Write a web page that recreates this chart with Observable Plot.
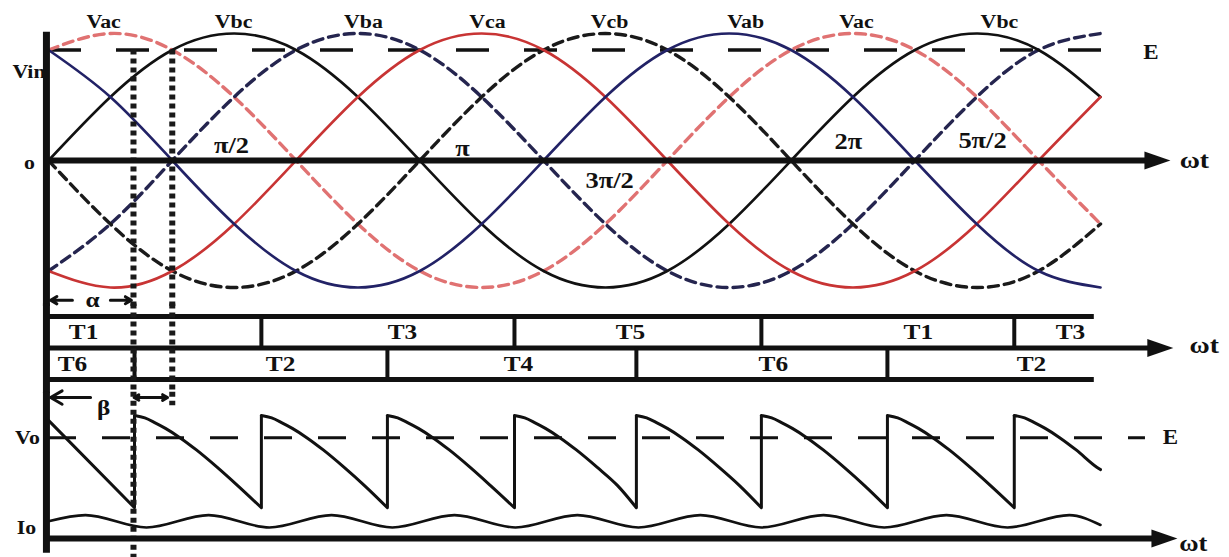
<!DOCTYPE html>
<html>
<head>
<meta charset="utf-8">
<script src="https://cdn.jsdelivr.net/npm/d3@7"></script>
<script src="https://cdn.jsdelivr.net/npm/@observablehq/plot@0.6"></script>
<style>
  html, body { margin: 0; padding: 0; background: #fff; }
  #chart { width: 1229px; height: 557px; overflow: hidden; }
  #chart svg { display: block; }
</style>
</head>
<body>
<div id="chart"></div>
<script>
// ---------- line voltages (per unit), sampled every 30° of ωt ----------
const angles = [0, 30, 60, 90, 120, 150, 180, 210, 240, 270, 300, 330, 360, 390, 420, 450, 480, 510];
const vbc = [0, 0.5, 0.87, 1, 0.87, 0.5, 0, -0.5, -0.87, -1, -0.87, -0.5, 0, 0.5, 0.87, 1, 0.87, 0.5];
const vcb = [0, -0.5, -0.87, -1, -0.87, -0.5, 0, 0.5, 0.87, 1, 0.87, 0.5, 0, -0.5, -0.87, -1, -0.87, -0.5];
const vac = [0.87, 1, 0.87, 0.5, 0, -0.5, -0.87, -1, -0.87, -0.5, 0, 0.5, 0.87, 1, 0.87, 0.5, 0, -0.5];
const vca = [-0.87, -1, -0.87, -0.5, 0, 0.5, 0.87, 1, 0.87, 0.5, 0, -0.5, -0.87, -1, -0.87, -0.5, 0, 0.5];
const vab = [0.87, 0.5, 0, -0.5, -0.87, -1, -0.87, -0.5, 0, 0.5, 0.87, 1, 0.87, 0.5, 0, -0.5, -0.87, -1];
const vba = [-0.87, -0.5, 0, 0.5, 0.87, 1, 0.87, 0.5, 0, -0.5, -0.87, -1, -0.87, -0.5, 0, 0.5, 0.87, 1];

// back-EMF level E (per unit)
const eLevel = [0.87];

// labels of the line-voltage peaks and their ωt position (degrees)
const peakLabels = ["Vac", "Vbc", "Vba", "Vca", "Vcb", "Vab", "Vac", "Vbc"];
const peakLabelAngles = [26.7, 89.7, 152.7, 212.8, 272, 338, 391.7, 461];

// angle tick labels on the ωt axis
const angleLabels = ["π/2", "π", "3π/2", "2π", "5π/2"];
const angleLabelX = [88.7, 200.7, 272, 387.8, 452.8];
const angleLabelY = [0.12, 0.09, -0.16, 0.15, 0.16];

// firing instants (degrees): thyristor switching, alternating lower / upper group
const firing = [41.7, 103.2, 164.3, 225.9, 285.0, 345.6, 406.7, 468.2];
const alphaGuide = [41.2];   // firing-angle guide
const crossGuide = [60];     // natural commutation point where Vac = Vbc = E

// conducting thyristors
const upperNames = ["T1", "T3", "T5", "T1", "T3"];
const upperLabelAt = [17, 171.6, 282.1, 421.7, 495.4];
const lowerNames = ["T6", "T2", "T4", "T6", "T2"];
const lowerLabelAt = [11.6, 112.5, 227.8, 351.4, 476.5];

// output voltage: shape of one 60° segment after firing (offset °, value)
const voProfileOffset = [0, 5, 10, 15, 22, 30, 40, 50];
const voProfileValue = [1.0, 0.98, 0.94, 0.895, 0.82, 0.72, 0.58, 0.43];
const voValley = 0.25;
const voStart = [0, 0.96];
const voEnd = [510, 0.56];
const eOut = [0.82];

// output current ripple extrema
const ioPeakAngles = [17.9, 77.6, 137.2, 196.8, 256.4, 316, 375.7, 435.3, 494.9];
const ioTroughAngles = [47.5, 107.1, 166.7, 226.4, 286, 345.6, 405.2, 464.9];
const ioPeak = 0.19, ioTrough = 0.09;
const ioStart = [0, 0.14];
const ioEnd = [510, 0.11];

// ---------- shared settings ----------
const W = 1229;
const X = {domain: [0, 510], range: [48, 1100], axis: null};
const SERIF = "'Liberation Serif', 'Times New Roman', serif";
const INK = "#111";

// right-pointing filled arrow head, apex at the anchor point
const arrowHead = {
  draw(ctx, size) {
    const r = Math.sqrt(size / Math.PI);
    ctx.moveTo(0, 0);
    ctx.lineTo(-2.6 * r, -0.9 * r);
    ctx.lineTo(-2.6 * r, 0.9 * r);
    ctx.closePath();
  }
};

function label(text, x, y, size, extra = {}) {
  return Plot.text([text], {
    x, y, text: d => d, fontFamily: SERIF, fontWeight: "bold",
    fontSize: size, fill: INK, ...extra
  });
}

function widen(svg, k) {
  svg.querySelectorAll("text").forEach(t => {
    const tr = t.getAttribute("transform");
    if (tr && tr.includes("translate")) t.setAttribute("transform", tr + ` scale(${k},1)`);
  });
  return svg;
}

const table = vals => angles.map((a, i) => ({a, v: vals[i]}));

// ---------- panel 1: line voltages ----------
const waves = [
  {vals: vac, color: "#e07272", dash: "10,6", w: 3.4},
  {vals: vba, color: "#25254f", dash: "10,6", w: 3.4},
  {vals: vcb, color: "#1a1a1a", dash: "10,6", w: 3.4},
  {vals: vbc, color: "#111111", dash: null, w: 2.6},
  {vals: vca, color: "#c83434", dash: null, w: 2.6},
  {vals: vab, color: "#222266", dash: null, w: 2.6}
];

const voltagePanel = Plot.plot({
  width: W, height: 305, margin: 0,
  x: X,
  y: {domain: [-1, 1], range: [287, 33], axis: null},
  style: {background: "white", overflow: "visible"},
  marks: [
    Plot.ruleY(eLevel, {x1: 0, x2: 525, stroke: INK, strokeWidth: 3.5, strokeDasharray: "33,35"}),
    ...waves.map(s => Plot.line(table(s.vals), {
      x: "a", y: "v", curve: "natural", stroke: s.color, strokeWidth: s.w,
      ...(s.dash ? {strokeDasharray: s.dash} : {})
    })),
    Plot.ruleX(alphaGuide, {y1: eLevel[0], y2: -1.15, stroke: "#1a1a1a", strokeWidth: 6, strokeDasharray: "5,4"}),
    Plot.ruleX(crossGuide, {y1: eLevel[0], y2: -1.15, stroke: "#1a1a1a", strokeWidth: 6, strokeDasharray: "5,4"}),
    Plot.ruleY([0], {x1: -1, x2: 534, stroke: INK, strokeWidth: 6}),
    Plot.dot([543.9], {x: d => d, y: 0, symbol: arrowHead, r: 10, fill: INK, stroke: "none"}),
    Plot.ruleX([-1], {y1: 1.01, y2: -1.15, stroke: INK, strokeWidth: 7}),
    Plot.text(peakLabels, {x: (d, i) => peakLabelAngles[i], y: 1.09, text: d => d,
      fontFamily: SERIF, fontWeight: "bold", fontSize: 19, fill: INK}),
    Plot.text(angleLabels, {x: (d, i) => angleLabelX[i], y: (d, i) => angleLabelY[i], text: d => d,
      fontFamily: SERIF, fontWeight: "bold", fontSize: 23, fill: INK}),
    label("Vin", -17.5, 0.70, 19, {textAnchor: "start"}),
    label("o", -9.2, -0.02, 19),
    label("E", 534.5, 0.85, 20),
    label("ωt", 555.5, 0.0, 24),
    Plot.arrow([0], {x1: 11.6, x2: 1, y1: -1.1, y2: -1.1, stroke: INK, strokeWidth: 3, headLength: 8}),
    Plot.arrow([0], {x1: 30, x2: 40.2, y1: -1.1, y2: -1.1, stroke: INK, strokeWidth: 3, headLength: 8}),
    label("α", 21.3, -1.1, 22)
  ]
});

// ---------- panel 2: conducting thyristors ----------
const upperCuts = firing.filter((d, i) => i % 2 === 1);
const lowerCuts = firing.filter((d, i) => i % 2 === 0);

const thyristorPanel = Plot.plot({
  width: W, height: 87, margin: 0,
  x: X,
  y: {domain: [0, 2], range: [74, 11], axis: null},
  style: {background: "white", overflow: "visible"},
  marks: [
    Plot.ruleY([2, 0], {x1: -1, x2: 507, stroke: INK, strokeWidth: 5}),
    Plot.ruleY([1], {x1: -1, x2: 535, stroke: INK, strokeWidth: 5}),
    Plot.dot([545.3], {x: d => d, y: 1, symbol: arrowHead, r: 10, fill: INK, stroke: "none"}),
    Plot.ruleX(upperCuts, {y1: 1, y2: 2, stroke: INK, strokeWidth: 4}),
    Plot.ruleX(lowerCuts, {y1: 0, y2: 1, stroke: INK, strokeWidth: 4}),
    Plot.ruleX(alphaGuide, {y1: 2.4, y2: -0.45, stroke: "#1a1a1a", strokeWidth: 6, strokeDasharray: "5,4"}),
    Plot.ruleX(crossGuide, {y1: 2.4, y2: -0.45, stroke: "#1a1a1a", strokeWidth: 6, strokeDasharray: "5,4"}),
    Plot.ruleX([-1], {y1: 2.4, y2: -0.45, stroke: INK, strokeWidth: 7}),
    Plot.text(upperNames, {x: (d, i) => upperLabelAt[i], y: 1.5, text: d => d,
      fontFamily: SERIF, fontWeight: "bold", fontSize: 22, fill: INK}),
    Plot.text(lowerNames, {x: (d, i) => lowerLabelAt[i], y: 0.5, text: d => d,
      fontFamily: SERIF, fontWeight: "bold", fontSize: 22, fill: INK}),
    label("ωt", 560.3, 1.08, 24)
  ]
});

// ---------- panel 3: output voltage and current ----------
const voSegments = [{a: voStart[0], v: voStart[1], k: 0}, {a: firing[0], v: voValley, k: 0}];
firing.forEach((f, j) => {
  const next = j + 1 < firing.length ? firing[j + 1] : null;
  const span = next === null ? voEnd[0] - f : next - f;
  voProfileOffset.forEach((o, m) => {
    if (o < span) voSegments.push({a: f + o, v: voProfileValue[m], k: j + 1});
  });
  if (next === null) voSegments.push({a: voEnd[0], v: voEnd[1], k: j + 1});
  else voSegments.push({a: next, v: voValley, k: j + 1});
});

const ioPoints = [{a: ioStart[0], v: ioStart[1]}]
  .concat(ioPeakAngles.map(a => ({a, v: ioPeak})))
  .concat(ioTroughAngles.map(a => ({a, v: ioTrough})))
  .concat([{a: ioEnd[0], v: ioEnd[1]}])
  .sort((p, q) => p.a - q.a);

const outputPanel = Plot.plot({
  width: W, height: 165, margin: 0,
  x: X,
  y: {domain: [0, 1], range: [146, 23], axis: null},
  style: {background: "white", overflow: "visible"},
  marks: [
    Plot.ruleY(eOut, {x1: 0, x2: 531.8, stroke: INK, strokeWidth: 3, strokeDasharray: "28,26"}),
    Plot.line(voSegments, {x: "a", y: "v", z: "k", curve: "monotone-x", stroke: INK, strokeWidth: 3}),
    Plot.ruleX(firing, {y1: voValley, y2: 1.0, stroke: INK, strokeWidth: 3}),
    Plot.line(ioPoints, {x: "a", y: "v", curve: "monotone-x", stroke: INK, strokeWidth: 2.6}),
    Plot.ruleX(alphaGuide, {y1: 1.19, y2: -0.16, stroke: "#1a1a1a", strokeWidth: 6, strokeDasharray: "5,4"}),
    Plot.ruleX(crossGuide, {y1: 1.19, y2: 1.08, stroke: "#1a1a1a", strokeWidth: 6, strokeDasharray: "5,4"}),
    Plot.ruleY([0], {x1: -1, x2: 537, stroke: INK, strokeWidth: 6}),
    Plot.dot([547.3], {x: d => d, y: 0, symbol: arrowHead, r: 10, fill: INK, stroke: "none"}),
    Plot.ruleX([-1], {y1: 1.19, y2: -0.12, stroke: INK, strokeWidth: 7}),
    Plot.arrow([0], {x1: 20.4, x2: 1, y1: 1.146, y2: 1.146, stroke: INK, strokeWidth: 3, headLength: 8}),
    Plot.arrow([0], {x1: 49.4, x2: 41.5, y1: 1.146, y2: 1.146, stroke: INK, strokeWidth: 3, headLength: 7}),
    Plot.arrow([0], {x1: 49.4, x2: 57.7, y1: 1.146, y2: 1.146, stroke: INK, strokeWidth: 3, headLength: 7}),
    label("β", 26.7, 1.06, 22),
    label("Vo", -10.2, 0.82, 19),
    label("Io", -10.7, 0.09, 19),
    label("E", 543.9, 0.82, 20),
    label("ωt", 555, -0.045, 23)
  ]
});

const root = document.getElementById("chart");
[voltagePanel, thyristorPanel, outputPanel].forEach(svg => root.appendChild(widen(svg, 1.15)));
</script>
</body>
</html>
